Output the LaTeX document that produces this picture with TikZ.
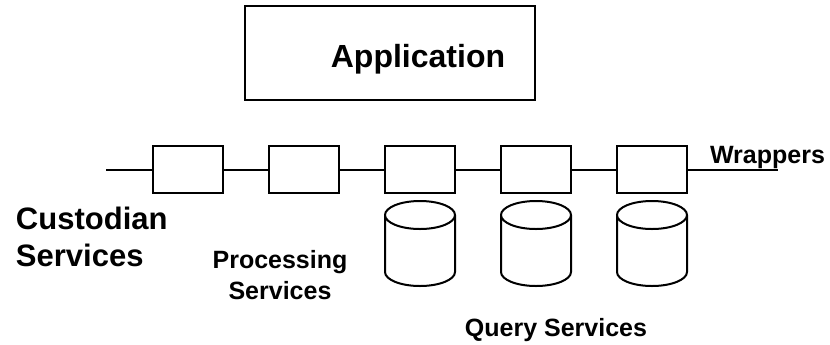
\documentclass[tikz,border=0pt]{standalone}
\usepackage{fontspec}
\setmainfont{Liberation Sans}
\usetikzlibrary{shapes.geometric}

\begin{document}
\begin{tikzpicture}[x=0.5pt,y=-0.5pt,line width=1pt,
  wrapbox/.style={draw, rectangle, minimum width=35pt, minimum height=23.5pt, inner sep=0pt, outer sep=0pt},
  store/.style={draw, cylinder, shape border rotate=90, aspect=0.4, minimum width=35pt, minimum height=42.5pt, inner sep=0pt, outer sep=0pt, anchor=shape center},
  lbl/.style={font=\bfseries\fontsize{12.5}{15.5}\selectfont, align=center, inner sep=0pt}]
\useasboundingbox (0,0) rectangle (830,344);

\node[draw, minimum width=145pt, minimum height=47pt, inner sep=0pt] (app) at (390,53) {};
\node[font=\bfseries\fontsize{16}{19}\selectfont, inner sep=0pt, anchor=base] (apptext) at (418,67) {Application};

\coordinate (in) at (106,169.5);
\coordinate (out) at (778,169.5);
\node[wrapbox] (w1) at (188,169.5) {};
\node[wrapbox] (w2) at (304,169.5) {};
\node[wrapbox] (w3) at (420,169.5) {};
\node[wrapbox] (w4) at (536,169.5) {};
\node[wrapbox] (w5) at (652,169.5) {};
\draw (in) -- (w1) -- (w2) -- (w3) -- (w4) -- (w5) -- (out);

\node[store] (d3) at (420,243.5) {\hspace*{35pt}};
\node[store] (d4) at (536,243.5) {\hspace*{35pt}};
\node[store] (d5) at (652,243.5) {\hspace*{35pt}};

\node[lbl, anchor=base] (wraptext) at (767.5,163) {Wrappers};
\node[lbl, font=\bfseries\fontsize{15.5}{18.5}\selectfont, align=left, anchor=north west] (cust) at (15,206) {Custodian\\Services};
\node[lbl, anchor=north] (proc) at (280,249) {Processing\\Services};
\node[lbl, anchor=base] (query) at (556,336) {Query Services};
\end{tikzpicture}
\end{document}
